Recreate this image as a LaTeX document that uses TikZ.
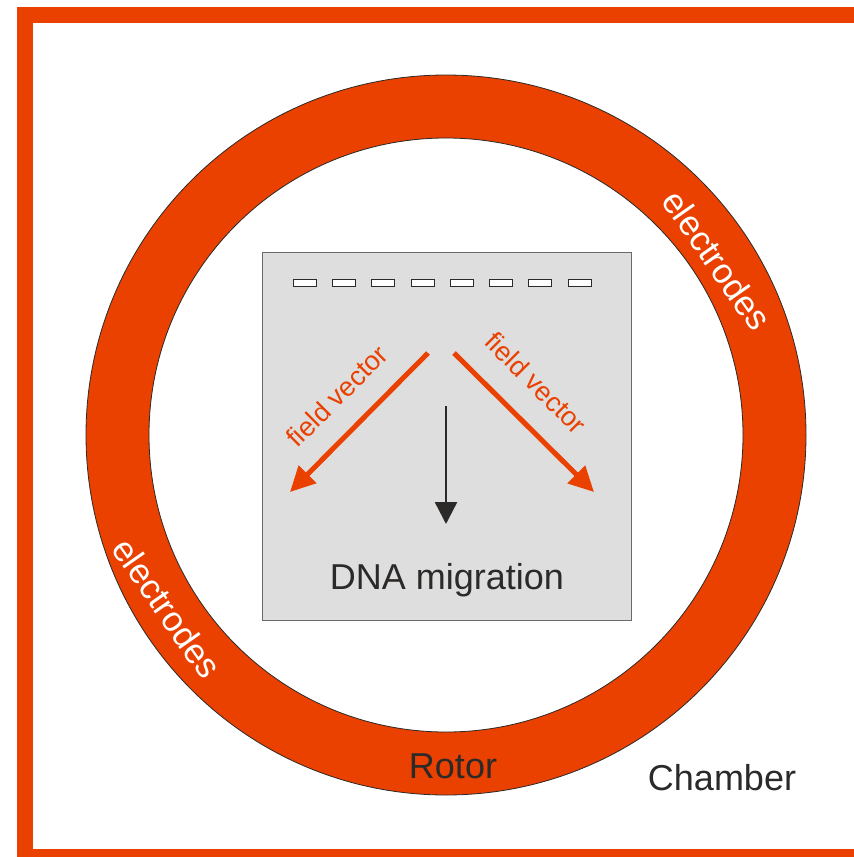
\documentclass[tikz,border=0pt]{standalone}
\usepackage{fontspec}
\setmainfont{Liberation Sans}
\usetikzlibrary{arrows.meta}
\definecolor{rotorred}{RGB}{234,64,0}
\definecolor{gelgray}{RGB}{222,222,222}
\definecolor{darktext}{RGB}{43,42,41}
\tikzset{>=stealth,
  wall/.style={draw=rotorred, line width=16pt},
  ringedge/.style={draw=darktext, line width=0.8pt},
  field/.style={draw=rotorred, line width=5pt, -{Triangle[length=25pt,width=24pt]}},
  migrate/.style={draw=darktext, line width=2.5pt, -{Triangle[length=22pt,width=22pt]}},
  bigtext/.style={text=darktext, font=\fontsize{36}{40}\selectfont},
  fieldtext/.style={text=rotorred, font=\fontsize{27}{30}\selectfont},
  electext/.style={text=white, font=\fontsize{35}{40}\selectfont, rotate=-55}}

\begin{document}
\begin{tikzpicture}[x=1pt,y=-1pt]
\useasboundingbox (0,0) rectangle (854,857);
\clip (0,0) rectangle (854,857);
% chamber wall
\draw[wall] (25,15) rectangle (870,857);
% rotor ring
\coordinate (c) at (446,435);
\fill[rotorred, even odd rule] (c) circle[radius=360pt] (c) circle[radius=297pt];
\draw[ringedge] (c) circle[radius=360pt] (c) circle[radius=297pt];
% gel with wells
\node[draw=darktext!70, fill=gelgray, line width=0.8pt, minimum width=369pt, minimum height=368pt,
  inner sep=0pt, anchor=north west] (gel) at (262,252) {};
\foreach \i in {0,...,7}
\draw[fill=white, draw=darktext, line width=0.7pt] (293+39.3*\i,279) rectangle ++(23,7);
% field vectors
\coordinate (lstart) at (428,353);
\coordinate (ltip) at (290,492);
\coordinate (rstart) at (454,353);
\coordinate (rtip) at (594,492);
\draw[field] (lstart) -- (ltip);
\draw[field] (rstart) -- (rtip);
\node[fieldtext, rotate=45] (lfield) at (337,396) {field vector};
\node[fieldtext, rotate=-45] (rfield) at (536,383) {field vector};
% migration
\coordinate (dnatop) at (446,406);
\coordinate (dnatip) at (446,524);
\draw[migrate] (dnatop) -- (dnatip);
\node[bigtext] (dna) at (447,580) {DNA migration};
% labels
\node[electext] (elecup) at (717,260) {electrodes};
\node[electext] (eleclow) at (167,608) {electrodes};
\node[bigtext] (rotor) at (453,766) {Rotor};
\node[bigtext] (chamber) at (722,778) {Chamber};
\end{tikzpicture}
\end{document}
